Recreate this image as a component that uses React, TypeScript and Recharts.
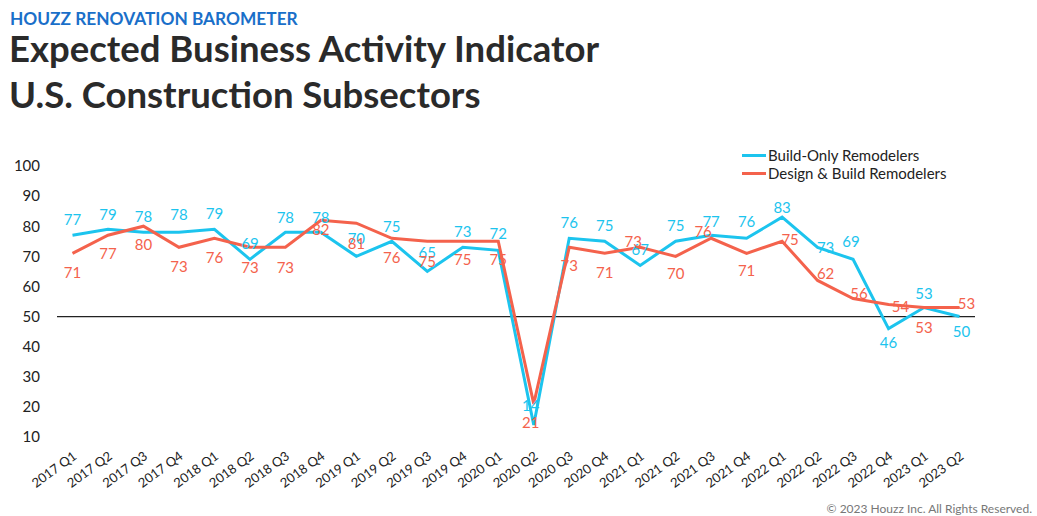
import React from 'react';
import { LineChart, Line, XAxis, YAxis, ReferenceLine, LabelList } from 'recharts';

const quarters = [
  '2017 Q1', '2017 Q2', '2017 Q3', '2017 Q4',
  '2018 Q1', '2018 Q2', '2018 Q3', '2018 Q4',
  '2019 Q1', '2019 Q2', '2019 Q3', '2019 Q4',
  '2020 Q1', '2020 Q2', '2020 Q3', '2020 Q4',
  '2021 Q1', '2021 Q2', '2021 Q3', '2021 Q4',
  '2022 Q1', '2022 Q2', '2022 Q3', '2022 Q4',
  '2023 Q1', '2023 Q2',
];
const buildOnly = [77, 79, 78, 78, 79, 69, 78, 78, 70, 75, 65, 73, 72, 14, 76, 75, 67, 75, 77, 76, 83, 73, 69, 46, 53, 50];
const designBuild = [71, 77, 80, 73, 76, 73, 73, 82, 81, 76, 75, 75, 75, 21, 73, 71, 73, 70, 76, 71, 75, 62, 56, 54, 53, 53];
const yTicks = [10, 20, 30, 40, 50, 60, 70, 80, 90, 100];

const BLUE = '#1CC4EE';
const RED = '#F4624C';
const FONT = 'Lato, "Open Sans", sans-serif';

// label placement (dx, dy) relative to each point — styling only
const blueLabelOffset: number[][] = [
  [0, -16], [0, -15], [0, -16], [0, -18], [0, -16], [0, -16], [0, -15], [0, -15],
  [0, -18], [0, -15], [0, -19], [0, -16], [0, -17], [-3, -20], [0, -16], [0, -16],
  [0, -16], [0, -16], [0, -14], [0, -17], [0, -10], [8, 0], [-2, -18], [0, 13],
  [0, -15], [2, 14],
];
const redLabelOffset: number[][] = [
  [0, 19], [0, 18], [0, 18], [0, 19], [0, 19], [0, 20], [0, 20], [0, 9],
  [0, 20], [0, 19], [0, 20], [0, 18], [0, 18], [-3, 18], [0, 18], [0, 19],
  [-7, -6], [0, 17], [-8, -7], [0, 17], [8, -2], [8, -7], [6, -5], [12, 1],
  [0, 19], [7, -5],
];

const data = quarters.map((q, i) => ({ q, build: buildOnly[i], design: designBuild[i] }));

const makeLabel = (color: string, offsets: number[][]) => (props: any) => {
  const { x, y, value, index } = props;
  const off = offsets[index] || [0, 0];
  return (
    <text
      x={x + off[0]}
      y={y + off[1]}
      textAnchor="middle"
      dominantBaseline="central"
      fill={color}
      fontSize={15}
      fontFamily={FONT}
    >
      {value}
    </text>
  );
};

const XTick = (props: any) => {
  const { x, y, payload } = props;
  return (
    <g transform={`translate(${x + 5},${y + 13})`}>
      <text
        x={0}
        y={0}
        textAnchor="end"
        transform="rotate(-36)"
        fill="#222"
        fontSize={13}
        fontFamily={FONT}
      >
        {payload.value}
      </text>
    </g>
  );
};

const legendItems = [
  { name: 'Build-Only Remodelers', color: BLUE },
  { name: 'Design & Build Remodelers', color: RED },
];

export default function App() {
  return (
    <div style={{ position: 'absolute', left: 0, top: 0, width: 1037, height: 516, background: '#fff', overflow: 'hidden' }}>
      <div style={{ position: 'absolute', left: 10, top: 8, fontFamily: FONT, fontWeight: 700, fontSize: 17.3, color: '#1a6fc9' }}>
        HOUZZ RENOVATION BAROMETER
      </div>
      <div style={{ position: 'absolute', left: 9, top: 25, fontFamily: FONT, fontWeight: 700, fontSize: 36.5, color: '#2a2a2a', lineHeight: '46px' }}>
        Expected Business Activity Indicator
        <br />
        U.S. Construction Subsectors
      </div>
      <div style={{ position: 'absolute', right: 5, top: 501, fontFamily: FONT, fontSize: 12, color: '#777' }}>
        © 2023 Houzz Inc. All Rights Reserved.
      </div>
      <div style={{ position: 'absolute', left: 0, top: 0 }}>
        <LineChart width={1037} height={516} data={data} margin={{ top: 166, right: 62, bottom: 0, left: 0 }}>
          <XAxis
            dataKey="q"
            axisLine={false}
            tickLine={false}
            interval={0}
            height={79}
            padding={{ left: 15.5, right: 15.5 }}
            tick={<XTick />}
          />
          <YAxis
            domain={[10, 100]}
            ticks={yTicks}
            axisLine={false}
            tickLine={false}
            width={57}
            tickMargin={11}
            interval={0}
            tick={{ fill: '#222', fontSize: 15, fontFamily: FONT }}
          />
          <ReferenceLine y={50} stroke="#222" strokeWidth={1.2} ifOverflow="extendDomain" />
          <Line
            type="linear"
            dataKey="build"
            stroke={BLUE}
            strokeWidth={3}
            dot={false}
            activeDot={false}
            isAnimationActive={false}
          >
            <LabelList dataKey="build" content={makeLabel(BLUE, blueLabelOffset)} />
          </Line>
          <Line
            type="linear"
            dataKey="design"
            stroke={RED}
            strokeWidth={3}
            dot={false}
            activeDot={false}
            isAnimationActive={false}
          >
            <LabelList dataKey="design" content={makeLabel(RED, redLabelOffset)} />
          </Line>
        </LineChart>
      </div>
      <div style={{ position: 'absolute', left: 742, top: 146, fontFamily: FONT, fontSize: 15, color: '#222', lineHeight: '18px' }}>
        {legendItems.map((it) => (
          <div key={it.name} style={{ display: 'flex', alignItems: 'center' }}>
            <span style={{ display: 'inline-block', width: 24, height: 3, background: it.color, marginRight: 2 }} />
            <span>{it.name}</span>
          </div>
        ))}
      </div>
    </div>
  );
}
